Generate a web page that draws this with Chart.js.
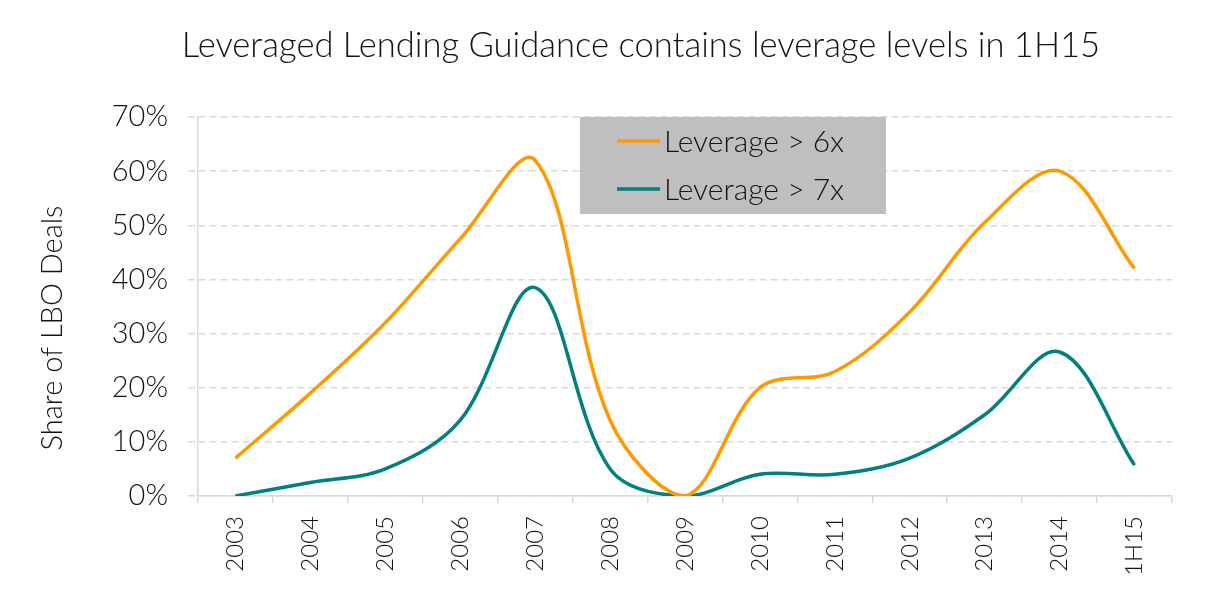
<!DOCTYPE html>
<html>
<head>
<meta charset="utf-8">
<script src="https://cdn.jsdelivr.net/npm/chart.js@4.4.1/dist/chart.umd.min.js"></script>
<style>
  html, body { margin: 0; padding: 0; background: #fff; }
  #wrap { width: 1219px; height: 603px; }
</style>
</head>
<body>
<div id="wrap"><canvas id="chart-lev" width="1219" height="603"></canvas></div>
<script>
// data (share of LBO deals, %)
var categories = ['2003', '2004', '2005', '2006', '2007', '2008', '2009', '2010', '2011', '2012', '2013', '2014', '1H15'];
var leverage6x = [7, 19, 32, 47.5, 62, 14, 0, 20, 23, 34, 50.5, 60, 42];
var leverage7x = [0, 2.5, 5, 14, 38.5, 5, 0, 4, 4, 7, 15, 26.6, 5.7];
var seriesNames = ['Leverage > 6x', 'Leverage > 7x'];
var seriesColors = ['#ff9900', '#008080'];
var chartTitle = 'Leveraged Lending Guidance contains leverage levels in 1H15';
var yAxisTitle = 'Share of LBO Deals';

var FONT = 'Lato, "Open Sans", sans-serif';
var W = '300 ';
var TEXT = '#141414';
var GRID = '#d9d9d9';

// legend drawn as a grey box inside the plot
var boxLegend = {
    id: 'boxLegend',
    afterDatasetsDraw: function (chart) {
        var ctx = chart.ctx;
        ctx.save();
        ctx.fillStyle = '#bfbfbf';
        ctx.fillRect(580, 117, 306, 97);
        chart.data.datasets.forEach(function (ds, i) {
            var y = 141 + i * 48;
            ctx.strokeStyle = ds.borderColor;
            ctx.lineWidth = 3.5;
            ctx.beginPath();
            ctx.moveTo(617, y);
            ctx.lineTo(660, y);
            ctx.stroke();
            ctx.fillStyle = TEXT;
            ctx.font = W + '30px ' + FONT;
            ctx.textBaseline = 'middle';
            ctx.fillText(ds.label, 664, y + 1);
        });
        ctx.restore();
    }
};

// chart title and y axis title, placed like the original
var texts = {
    id: 'texts',
    afterDraw: function (chart) {
        var ctx = chart.ctx;
        ctx.save();
        ctx.fillStyle = TEXT;
        ctx.textAlign = 'center';
        ctx.textBaseline = 'middle';
        ctx.font = W + '34.6px ' + FONT;
        ctx.fillText(chartTitle, 641, 46);
        ctx.translate(53, 328);
        ctx.rotate(-Math.PI / 2);
        ctx.font = W + '29px ' + FONT;
        ctx.fillText(yAxisTitle, 0, 0);
        ctx.restore();
    }
};

var ctx = document.getElementById('chart-lev').getContext('2d');
var chart = new Chart(ctx, {
    type: 'line',
    data: {
        labels: categories,
        datasets: [{
            label: seriesNames[0],
            data: leverage6x,
            borderColor: seriesColors[0],
            backgroundColor: seriesColors[0],
            borderWidth: 3.5,
            pointRadius: 0,
            tension: 0.35,
            fill: false
        }, {
            label: seriesNames[1],
            data: leverage7x,
            borderColor: seriesColors[1],
            backgroundColor: seriesColors[1],
            borderWidth: 3.5,
            pointRadius: 0,
            tension: 0.35,
            fill: false
        }]
    },
    options: {
        responsive: false,
        animation: false,
        devicePixelRatio: 1,
        layout: { padding: { left: 0, right: 47, top: 117, bottom: 0 } },
        plugins: {
            legend: { display: false },
            tooltip: { enabled: false },
            title: { display: false }
        },
        scales: {
            x: {
                offset: true,
                grid: {
                    offset: true,
                    drawOnChartArea: false,
                    drawTicks: true,
                    tickLength: 7,
                    color: GRID,
                    lineWidth: 1.5
                },
                border: { display: true, color: GRID, width: 1.5 },
                ticks: {
                    color: TEXT,
                    font: { family: FONT, size: 24, weight: 300 },
                    minRotation: 90,
                    maxRotation: 90,
                    padding: 13,
                    autoSkip: false
                },
                afterFit: function (scale) { scale.height = 107; }
            },
            y: {
                min: 0,
                max: 70,
                grid: {
                    color: GRID,
                    lineWidth: 1.5,
                    tickLength: 10,
                    tickBorderDash: [7, 4]
                },
                border: { display: true, color: GRID, width: 1.5, dash: [7, 4] },
                ticks: {
                    stepSize: 10,
                    color: TEXT,
                    font: { family: FONT, size: 29, weight: 300 },
                    padding: 20,
                    callback: function (v) { return v + '%'; }
                },
                afterFit: function (scale) { scale.width = 198; }
            }
        }
    },
    plugins: [boxLegend, texts]
});
</script>
</body>
</html>
